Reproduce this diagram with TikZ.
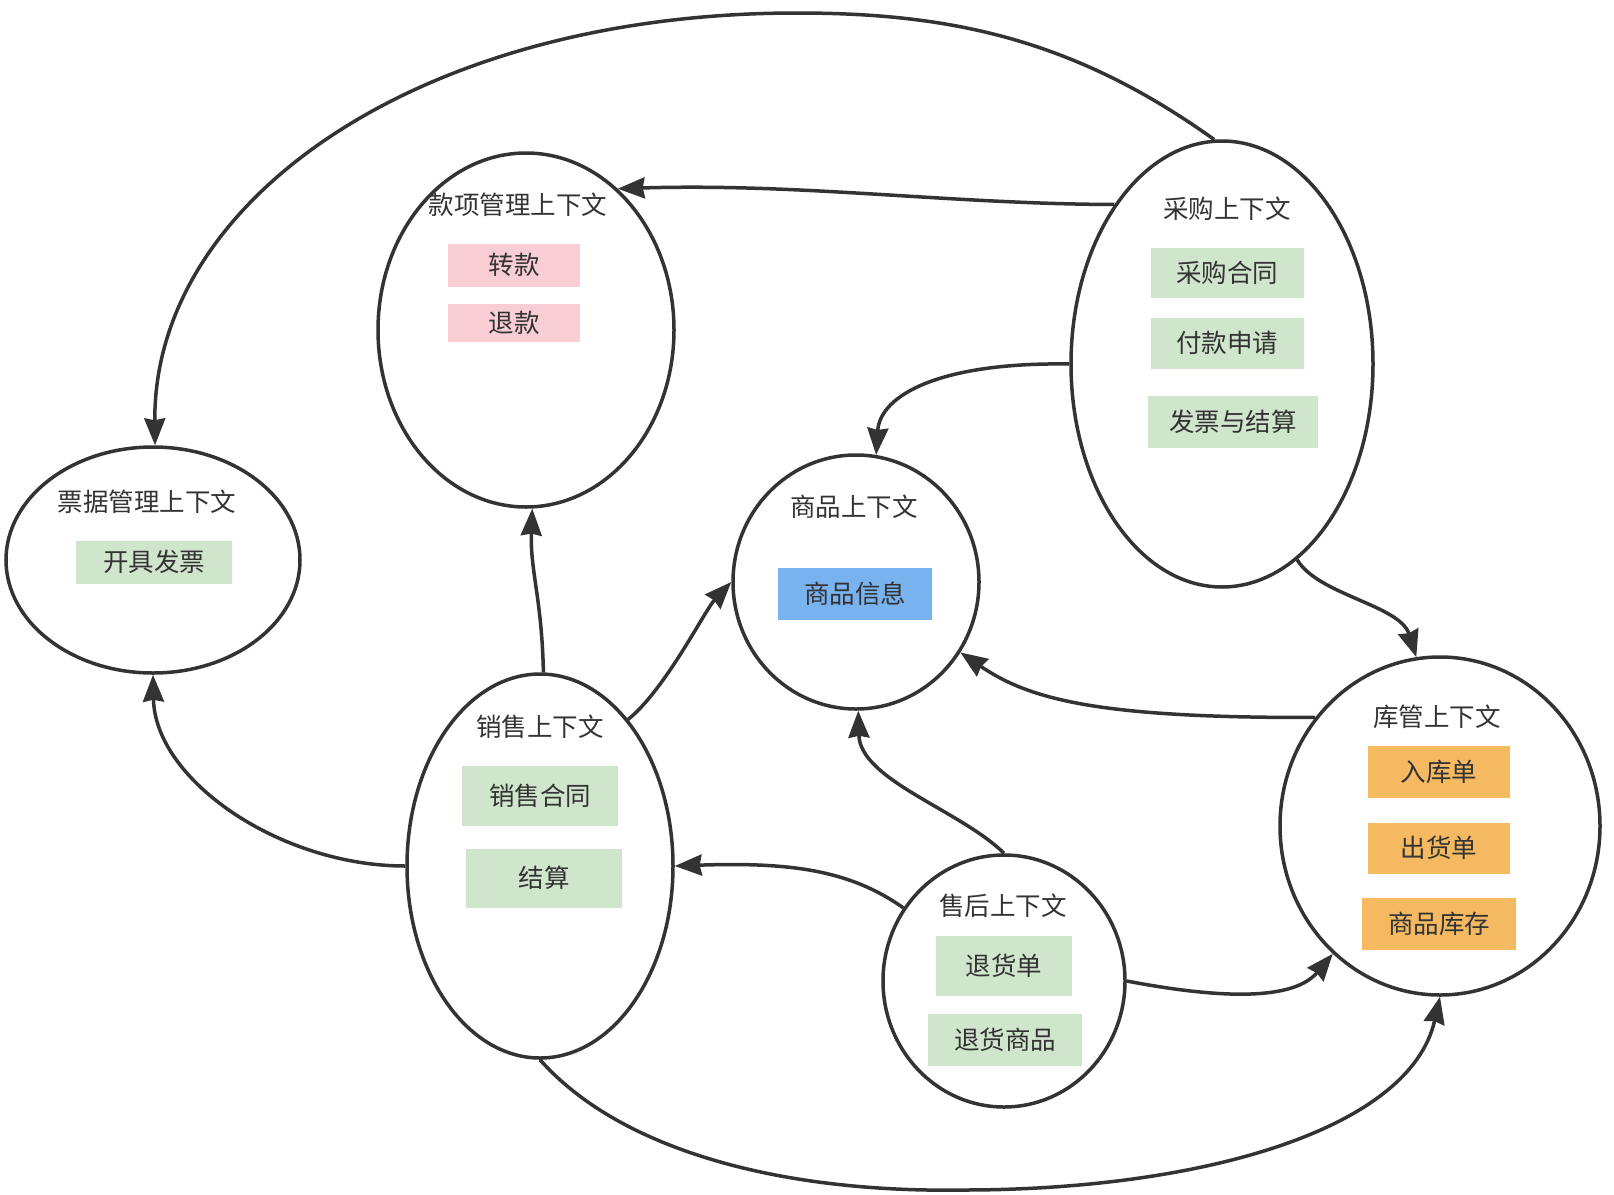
\documentclass[tikz,border=0pt]{standalone}
\usepackage{fontspec}
\setmainfont{Noto Sans CJK SC}
\usetikzlibrary{shapes.geometric,arrows.meta}
\definecolor{ln}{HTML}{333333}
\definecolor{gbox}{HTML}{D0E6CC}
\definecolor{pbox}{HTML}{F8CDD3}
\definecolor{bbox}{HTML}{78B2EF}
\definecolor{obox}{HTML}{F4B961}
\begin{document}
\begin{tikzpicture}[x=1pt,y=-1pt,
  ctx/.style={ellipse,draw=ln,line width=3.5pt,inner sep=0pt},
  ttl/.style={inner sep=0pt,text=ln,font=\fontsize{25.5}{30}\selectfont},
  item/.style={rectangle,inner sep=0pt,text=ln,font=\fontsize{25.5}{30}\selectfont},
  conn/.style={draw=ln,line width=3.5pt,-{Stealth[length=27pt,width=21pt,inset=2pt]}}
]
\useasboundingbox (0,0) rectangle (1614,1194);

% context ellipses
\node[ctx,minimum width=296pt,minimum height=354pt] (kx) at (526,330) {};
\node[ctx,minimum width=302pt,minimum height=446pt] (cg) at (1222,364) {};
\node[ctx,minimum width=246pt,minimum height=254pt] (sp) at (856,582) {};
\node[ctx,minimum width=294pt,minimum height=226pt] (pj) at (153,560) {};
\node[ctx,minimum width=266pt,minimum height=384pt] (xs) at (540,866) {};
\node[ctx,minimum width=320pt,minimum height=338pt] (kg) at (1440,826) {};
\node[ctx,minimum width=242pt,minimum height=252pt] (sh) at (1004,981) {};

% titles
\node[ttl] (kxt) at (518,205) {款项管理上下文};
\node[ttl] (cgt) at (1227,209) {采购上下文};
\node[ttl] (spt) at (854,507) {商品上下文};
\node[ttl] (pjt) at (147,502) {票据管理上下文};
\node[ttl] (xst) at (540,727) {销售上下文};
\node[ttl] (kgt) at (1437,717) {库管上下文};
\node[ttl] (sht) at (1003,906) {售后上下文};

% items
\node[item,fill=pbox,minimum width=132pt,minimum height=43pt] (zk) at (514,265) {转款};
\node[item,fill=pbox,minimum width=132pt,minimum height=38pt] (tk) at (514,323) {退款};
\node[item,fill=gbox,minimum width=153pt,minimum height=50pt] (cght) at (1227,273) {采购合同};
\node[item,fill=gbox,minimum width=153pt,minimum height=51pt] (fksq) at (1227,343) {付款申请};
\node[item,fill=gbox,minimum width=170pt,minimum height=52pt] (fpjs) at (1233,422) {发票与结算};
\node[item,fill=bbox,minimum width=154pt,minimum height=52pt] (spxx) at (855,594) {商品信息};
\node[item,fill=gbox,minimum width=156pt,minimum height=43pt] (kjfp) at (154,562) {开具发票};
\node[item,fill=gbox,minimum width=156pt,minimum height=60pt] (xsht) at (540,796) {销售合同};
\node[item,fill=gbox,minimum width=156pt,minimum height=59pt] (js) at (544,878) {结算};
\node[item,fill=obox,minimum width=142pt,minimum height=52pt] (rkd) at (1439,772) {入库单};
\node[item,fill=obox,minimum width=142pt,minimum height=51pt] (chd) at (1439,848) {出货单};
\node[item,fill=obox,minimum width=154pt,minimum height=52pt] (spkc) at (1439,924) {商品库存};
\node[item,fill=gbox,minimum width=136pt,minimum height=60pt] (thd) at (1004,966) {退货单};
\node[item,fill=gbox,minimum width=154pt,minimum height=52pt] (thsp) at (1005,1040) {退货商品};

% helper points of the two long arcs
\coordinate (toparc) at (797,13);
\coordinate (botarc) at (963,1190);

% connectors
\draw[conn] (cg.92) .. controls (1074,39) and (950,13) .. (toparc) .. controls (420,13) and (153,200) .. (pj.89);
\draw[conn] (cg.124) .. controls (950,204) and (800,183) .. (kx.57);
\draw[conn] (cg.west) .. controls (940,362) and (880,395) .. (sp.81);
\draw[conn] (cg.-69) .. controls (1318,595) and (1400,605) .. (kg.98);
\draw[conn] (kg.139) .. controls (1100,718) and (1030,700) .. (sp.-34);
\draw[conn] (sh.north) .. controls (960,810) and (860,780) .. (sp.-89);
\draw[conn] (sh.144) .. controls (850,870) and (790,862) .. (xs.east);
\draw[conn] (sh.east) .. controls (1200,995) and (1290,1005) .. (kg.230);
\draw[conn] (xs.89) .. controls (542,600) and (530,570) .. (kx.-88);
\draw[conn] (xs.59) .. controls (665,690) and (705,610) .. (sp.west);
\draw[conn] (xs.west) .. controls (280,866) and (155,780) .. (pj.south);
\draw[conn] (xs.south) .. controls (620,1150) and (780,1193) .. (botarc) .. controls (1200,1190) and (1410,1130) .. (kg.south);
\end{tikzpicture}
\end{document}
